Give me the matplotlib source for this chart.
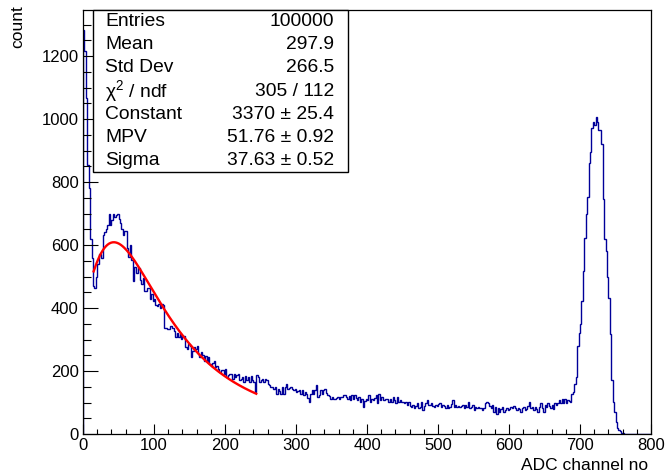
import matplotlib
matplotlib.use("Agg")
import matplotlib.pyplot as plt
from matplotlib.patches import Rectangle
from matplotlib.ticker import MultipleLocator
import numpy as np

plt.rcParams['font.family'] = ['Liberation Sans', 'DejaVu Sans']
plt.rcParams['mathtext.fontset'] = 'custom'
plt.rcParams['mathtext.rm'] = 'Liberation Sans'
plt.rcParams['mathtext.it'] = 'Liberation Sans'

# histogram: 400 bins of width 2 over 0..800 (ADC channels)
bin_lo, bin_hi, nbins = 0, 800, 400
counts = [
    1282, 1216, 1068, 853, 780, 620, 560, 469, 462, 500,      # 0
    540, 570, 572, 560, 633, 640, 650, 664, 700, 664,         # 20
    680, 700, 690, 695, 700, 684, 670, 650, 633, 643,         # 40
    643, 590, 563, 600, 553, 485, 531, 510, 510, 527,         # 60
    490, 475, 496, 454, 454, 465, 465, 428, 444, 423,         # 80
    428, 410, 407, 412, 400, 412, 410, 338, 338, 333,         # 100
    333, 343, 343, 335, 328, 307, 322, 307, 317, 301,         # 120
    312, 312, 275, 270, 286, 280, 244, 262, 275, 270,         # 140
    280, 254, 244, 260, 250, 233, 249, 228, 244, 223,         # 160
    217, 225, 233, 212, 217, 207, 196, 202, 202, 191,         # 180
    207, 181, 186, 191, 191, 175, 191, 181, 186, 191,         # 200
    170, 175, 181, 165, 183, 173, 181, 165, 183, 170,         # 220
    165, 134, 186, 180, 165, 170, 175, 165, 175, 170,         # 240
    160, 155, 149, 149, 144, 149, 128, 144, 136, 128,         # 260
    149, 128, 149, 160, 144, 146, 149, 144, 139, 144,         # 280
    133, 136, 139, 128, 139, 123, 133, 128, 115, 102,         # 300
    128, 139, 128, 139, 155, 118, 125, 139, 128, 139,         # 320
    144, 130, 123, 120, 112, 118, 112, 112, 115, 118,         # 340
    112, 118, 118, 123, 123, 118, 112, 120, 107, 123,         # 360
    112, 123, 115, 107, 118, 102, 112, 86, 105, 112,          # 380
    107, 123, 102, 112, 107, 115, 123, 97, 128, 107,          # 400
    118, 107, 107, 110, 112, 102, 110, 102, 118, 107,         # 420
    97, 118, 102, 107, 102, 102, 97, 102, 91, 102,            # 440
    90, 86, 91, 81, 90, 97, 81, 86, 102, 76,                  # 460
    90, 97, 107, 91, 91, 97, 90, 86, 91, 88,                  # 480
    95, 99, 86, 91, 88, 81, 91, 84, 86, 95,                   # 500
    107, 86, 91, 86, 88, 86, 88, 91, 81, 91,                  # 520
    86, 102, 81, 86, 91, 76, 86, 81, 86, 83,                  # 540
    81, 76, 81, 97, 102, 97, 88, 81, 91, 70,                  # 560
    86, 65, 81, 70, 80, 86, 70, 76, 81, 76,                   # 580
    80, 86, 81, 88, 81, 76, 81, 78, 70, 81,                   # 600
    86, 76, 78, 90, 102, 81, 86, 76, 86, 78,                  # 620
    70, 86, 97, 81, 70, 91, 86, 97, 90, 81,                   # 640
    91, 78, 97, 91, 100, 107, 97, 112, 97, 112,               # 660
    97, 107, 105, 102, 128, 133, 160, 181, 280, 320,          # 680
    349, 422, 516, 621, 700, 753, 860, 894, 973, 989,         # 700
    981, 1005, 990, 964, 964, 920, 747, 620, 580, 500,        # 720
    432, 317, 170, 101, 69, 38, 20, 13, 8, 3,                 # 740
    2, 1, 0, 0, 0, 0, 0, 0, 0, 0,                             # 760
    0, 0, 0, 0, 0, 0, 0, 0, 0, 0,                             # 780
]

# Landau fit result (ROOT TMath::Landau parametrisation)
fit_const, fit_mpv, fit_sigma = 3370.0, 51.76, 37.63
fit_lo, fit_hi = 15.0, 244.0

stats_names = ["Entries", "Mean", "Std Dev", "\u03c7$^{2}$ / ndf", "Constant", "MPV", "Sigma"]
stats_values = ["100000", "297.9", "266.5", "305 / 112",
                "3370 \u00b1 25.4", "51.76 \u00b1 0.92", "37.63 \u00b1 0.52"]


def landau_pdf(lam):
    # phi(l) = 1/pi * int_0^inf exp(-t ln t - l t) sin(pi t) dt
    t = np.linspace(1e-9, 40, 40001)
    f = np.exp(-t * np.log(t) - lam[:, None] * t) * np.sin(np.pi * t)
    return np.trapezoid(f, t, axis=1) / np.pi


W, H = 667, 476
fig = plt.figure(figsize=(W / 100, H / 100), dpi=100)
x0, x1, y0, y1 = 83, 651, 10, 434
ax = fig.add_axes([x0 / W, 1 - y1 / H, (x1 - x0) / W, (y1 - y0) / H])

edges = np.linspace(bin_lo, bin_hi, nbins + 1)
ax.stairs(counts, edges, color='#000099', lw=1.0, baseline=0)

xf = np.linspace(fit_lo, fit_hi, 200)
yf = fit_const * landau_pdf((xf - fit_mpv) / fit_sigma)
ax.plot(xf, yf, color='red', lw=1.7)

ax.set_xlim(0, 800)
ax.set_ylim(0, max(counts) * 1.05)
ax.xaxis.set_major_locator(MultipleLocator(100))
ax.xaxis.set_minor_locator(MultipleLocator(20))
ax.yaxis.set_major_locator(MultipleLocator(200))
ax.yaxis.set_minor_locator(MultipleLocator(50))
ax.tick_params(axis='both', which='both', direction='in', top=False, right=False,
               labelsize=12, width=0.8, colors='black')
ax.tick_params(axis='x', which='major', length=7.5, pad=3)
ax.tick_params(axis='x', which='minor', length=3.8)
ax.tick_params(axis='y', which='major', length=11, pad=3)
ax.tick_params(axis='y', which='minor', length=5.5)
for s in ax.spines.values():
    s.set_linewidth(0.9)

fig.text(648 / W, 1 - 466 / H, "ADC channel no", ha='right', va='center', fontsize=12.5)
fig.text(18 / W, 1 - 5 / H, "count", ha='center', va='top', rotation=90, fontsize=12.5)

# stats box
bx0, bx1, by0, by1 = 93, 348, 10, 172
fig.patches.append(Rectangle((bx0 / W, 1 - by1 / H), (bx1 - bx0) / W, (by1 - by0) / H,
                             transform=fig.transFigure, facecolor='white',
                             edgecolor='black', lw=1.0, zorder=5))
row_h = (by1 - by0) / len(stats_names)
for i, (n, v) in enumerate(zip(stats_names, stats_values)):
    yc = 1 - (by0 + row_h * (i + 0.5)) / H
    fig.text(105 / W, yc, n, ha='left', va='center', fontsize=13.9, zorder=6)
    fig.text(334 / W, yc, v, ha='right', va='center', fontsize=13.9, zorder=6)

fig.savefig("out.png", dpi=100)
